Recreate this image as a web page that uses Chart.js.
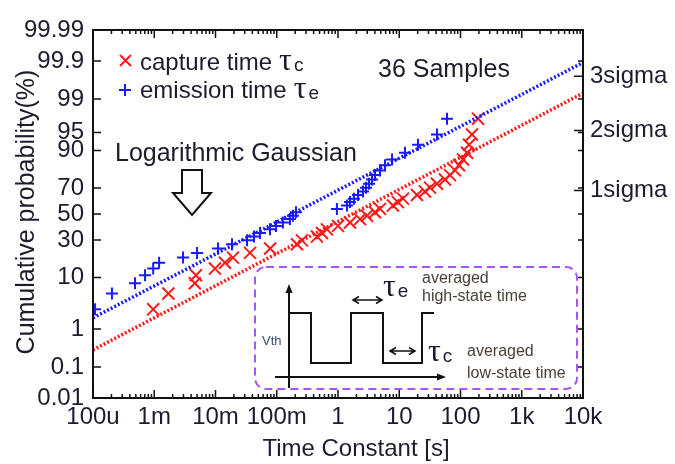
<!DOCTYPE html>
<html>
<head>
<meta charset="utf-8">
<script src="https://cdn.jsdelivr.net/npm/chart.js@4"></script>
<style>
  body { margin: 0; background: #fff; }
  #wrap { width: 675px; height: 464px; }
</style>
</head>
<body>
<div id="wrap"><canvas id="chart"></canvas></div>
<script>
// axis ticks
const xTickValues = [1e-4, 1e-3, 1e-2, 1e-1, 1, 10, 100, 1e3, 1e4]
const xTickLabels = ['100u', '1m', '10m', '100m', '1', '10', '100', '1k', '10k']
const yTickPct = [0.01, 0.1, 1, 10, 30, 50, 70, 90, 95, 99, 99.9, 99.99]
const yTickLabels = ['0.01', '0.1', '1', '10', '30', '50', '70', '90', '95', '99', '99.9', '99.99']
const sigmaPct = [68.27, 95.45, 99.73]
const sigmaLabels = ['1sigma', '2sigma', '3sigma']

// cumulative probability (%) of each ranked sample, 36 samples
const cumulativePct = [2.7, 5.4, 8.1, 10.8, 13.5, 16.2, 18.9, 21.6, 24.3, 27.0, 29.7, 32.4,
  35.1, 37.8, 40.5, 43.2, 45.9, 48.6, 51.4, 54.1, 56.8, 59.5, 62.2, 64.9,
  67.6, 70.3, 73.0, 75.7, 78.4, 81.1, 83.8, 86.5, 89.2, 91.9, 94.6, 97.3]

// capture time tau_c [s], sorted
const captureTimes = [0.00096, 0.0017, 0.0046, 0.0048, 0.0098, 0.0143, 0.0193, 0.0366, 0.078, 0.214,
  0.258, 0.454, 0.548, 0.661, 1.0, 1.57, 2.29, 2.97, 4.02, 4.85,
  7.9, 9.5, 11.5, 19.5, 26.3, 31.8, 41.3, 55.8, 67.4, 81.3,
  94.6, 110, 128, 138, 154, 193]

// emission time tau_e [s], sorted
const emissionTimes = [0.000108, 0.000204, 0.000485, 0.000707, 0.00096, 0.0012, 0.00295, 0.005, 0.011, 0.0186,
  0.0327, 0.0425, 0.0533, 0.0776, 0.0973, 0.126, 0.164, 0.184, 0.206, 0.96,
  1.40, 1.57, 1.82, 2.12, 2.56, 2.87, 3.21, 3.59, 4.02, 4.85,
  5.85, 7.62, 12.4, 20.2, 41.3, 60.2]

// log-normal fit lines (end points)
const fitTimes = [1e-4, 1e4]
const captureFitPct = [0.30, 99.27]
const emissionFitPct = [1.79, 99.89]

const RED = '#ff1a1a'
const BLUE = '#1a1aff'
const INK = '#1c1c2c'
const SANS = '"Liberation Sans", Arial, Helvetica, sans-serif'
const SERIF = '"Liberation Serif", "DejaVu Serif", serif'

// inverse of the standard normal CDF (Acklam)
function probit(p) {
  const a = [-3.969683028665376e+01, 2.209460984245205e+02, -2.759285104469687e+02, 1.383577518672690e+02, -3.066479806614716e+01, 2.506628277459239e+00]
  const b = [-5.447609879822406e+01, 1.615858368580409e+02, -1.556989798598866e+02, 6.680131188771972e+01, -1.328068155328935e+01]
  const c = [-7.784894002430293e-03, -3.223964580411365e-01, -2.400758277161838e+00, -2.549732539343734e+00, 4.374664141464968e+00, 2.938163982698783e+00]
  const d = [7.784695709041462e-03, 3.224671290700398e-01, 2.445134137142996e+00, 3.754408661907416e+00]
  const pl = 0.02425
  let q, r
  if (p < pl) {
    q = Math.sqrt(-2 * Math.log(p))
    return (((((c[0]*q+c[1])*q+c[2])*q+c[3])*q+c[4])*q+c[5]) / ((((d[0]*q+d[1])*q+d[2])*q+d[3])*q+1)
  }
  if (p <= 1 - pl) {
    q = p - 0.5
    r = q * q
    return (((((a[0]*r+a[1])*r+a[2])*r+a[3])*r+a[4])*r+a[5])*q / (((((b[0]*r+b[1])*r+b[2])*r+b[3])*r+b[4])*r+1)
  }
  q = Math.sqrt(-2 * Math.log(1 - p))
  return -(((((c[0]*q+c[1])*q+c[2])*q+c[3])*q+c[4])*q+c[5]) / ((((d[0]*q+d[1])*q+d[2])*q+d[3])*q+1)
}

const z = (pct) => probit(pct / 100)
const toPoints = (xs, pcts) => xs.map((x, i) => ({ x: x, y: z(pcts[i]) }))
const zMin = z(yTickPct[0])
const zMax = z(yTickPct[yTickPct.length - 1])

// text with a big tau and small subscript
function tauText(ctx, x, y, sub) {
  ctx.font = '32px ' + SERIF
  ctx.fillText('\u03c4', x, y)
  const w = ctx.measureText('\u03c4').width
  ctx.font = '19px ' + SANS
  ctx.fillText(sub, x + w + 2, y + 1)
}

// legend line: text, then tau with subscript just after it
function legendText(ctx, text, x, y, sub) {
  ctx.font = '24px ' + SANS
  ctx.fillText(text, x, y)
  tauText(ctx, x + ctx.measureText(text).width + 7, y, sub)
}

function dblArrow(ctx, x1, x2, y) {
  ctx.beginPath()
  ctx.moveTo(x1, y); ctx.lineTo(x2, y)
  ctx.moveTo(x1 + 6, y - 3.5); ctx.lineTo(x1, y); ctx.lineTo(x1 + 6, y + 3.5)
  ctx.moveTo(x2 - 6, y - 3.5); ctx.lineTo(x2, y); ctx.lineTo(x2 - 6, y + 3.5)
  ctx.stroke()
}

const decorations = {
  id: 'decorations',
  afterDraw(chart) {
    const ctx = chart.ctx
    const area = chart.chartArea
    const xs = chart.scales.x
    const ys = chart.scales.y
    ctx.save()

    // frame
    ctx.strokeStyle = '#111'
    ctx.lineWidth = 2
    ctx.strokeRect(area.left, area.top, area.right - area.left, area.bottom - area.top)

    // inward ticks, x (bottom and top)
    ctx.lineWidth = 1.5
    ctx.beginPath()
    for (let e = -4; e <= 4; e++) {
      for (let m = 1; m <= 9; m++) {
        const v = m * Math.pow(10, e)
        if (v > 1e4 * 1.0001) continue
        const px = xs.getPixelForValue(v)
        const len = m === 1 ? 8 : 4
        ctx.moveTo(px, area.bottom); ctx.lineTo(px, area.bottom - len)
        ctx.moveTo(px, area.top); ctx.lineTo(px, area.top + len)
      }
    }
    // inward ticks, y (left and right)
    yTickPct.forEach((p) => {
      const py = ys.getPixelForValue(z(p))
      ctx.moveTo(area.left, py); ctx.lineTo(area.left + 8, py)
      ctx.moveTo(area.right, py); ctx.lineTo(area.right - 5, py)
    })
    sigmaPct.forEach((p) => {
      const py = ys.getPixelForValue(z(p))
      ctx.moveTo(area.right, py); ctx.lineTo(area.right - 9, py)
    })
    ctx.stroke()

    // axis titles
    ctx.fillStyle = INK
    ctx.textAlign = 'center'
    ctx.textBaseline = 'middle'
    ctx.font = '24px ' + SANS
    ctx.fillText('Time Constant [s]', 356, 449)
    ctx.save()
    ctx.translate(27, 212)
    ctx.rotate(-Math.PI / 2)
    ctx.font = '25px ' + SANS
    ctx.fillText('Cumulative probability(%)', 0, 0)
    ctx.restore()

    // legend
    ctx.lineWidth = 2
    ctx.strokeStyle = RED
    ctx.beginPath()
    ctx.moveTo(120, 55); ctx.lineTo(131, 66)
    ctx.moveTo(131, 55); ctx.lineTo(120, 66)
    ctx.stroke()
    ctx.strokeStyle = BLUE
    ctx.beginPath()
    ctx.moveTo(119, 90); ctx.lineTo(131, 90)
    ctx.moveTo(125, 84); ctx.lineTo(125, 96)
    ctx.stroke()
    ctx.textAlign = 'left'
    ctx.textBaseline = 'alphabetic'
    legendText(ctx, 'capture time', 140, 70, 'c')
    legendText(ctx, 'emission time', 140, 98, 'e')

    ctx.font = '25px ' + SANS
    ctx.fillText('36 Samples', 378, 77)
    ctx.fillText('Logarithmic Gaussian', 115, 161)

    // hollow arrow
    ctx.strokeStyle = '#111'
    ctx.lineWidth = 2
    ctx.beginPath()
    ctx.moveTo(182, 170); ctx.lineTo(202, 170); ctx.lineTo(202, 193); ctx.lineTo(211, 193)
    ctx.lineTo(192, 215); ctx.lineTo(173, 193); ctx.lineTo(182, 193); ctx.closePath()
    ctx.stroke()

    // inset
    ctx.strokeStyle = '#a855f7'
    ctx.lineWidth = 2
    ctx.setLineDash([8, 5])
    ctx.beginPath()
    ctx.roundRect(255, 267, 322, 122, 11)
    ctx.stroke()
    ctx.setLineDash([])

    ctx.strokeStyle = '#111'
    ctx.lineWidth = 2
    ctx.beginPath()
    ctx.moveTo(289, 388); ctx.lineTo(289, 290)
    ctx.moveTo(275, 377); ctx.lineTo(441, 377)
    ctx.stroke()
    ctx.fillStyle = '#111'
    ctx.beginPath()
    ctx.moveTo(289, 284); ctx.lineTo(285.5, 293); ctx.lineTo(292.5, 293); ctx.closePath()
    ctx.moveTo(446, 377); ctx.lineTo(437, 373.5); ctx.lineTo(437, 380.5); ctx.closePath()
    ctx.fill()

    ctx.beginPath()
    ctx.moveTo(290, 313); ctx.lineTo(311, 313); ctx.lineTo(311, 363); ctx.lineTo(351, 363)
    ctx.lineTo(351, 313); ctx.lineTo(383, 313); ctx.lineTo(383, 363); ctx.lineTo(422, 363)
    ctx.lineTo(422, 313); ctx.lineTo(434, 313)
    ctx.stroke()
    ctx.lineWidth = 1.5
    dblArrow(ctx, 353, 382, 300)
    dblArrow(ctx, 390, 415, 351)

    ctx.fillStyle = '#3a4a6a'
    ctx.font = '13px ' + SANS
    ctx.fillText('Vth', 262, 345)

    ctx.fillStyle = INK
    tauText(ctx, 383, 296, 'e')
    tauText(ctx, 428, 361, 'c')
    ctx.fillStyle = '#4a4038'
    ctx.font = '16px ' + SANS
    ctx.fillText('averaged', 422, 283)
    ctx.fillText('high-state time', 422, 301)
    ctx.fillText('averaged', 467, 356)
    ctx.fillText('low-state time', 467, 378)

    ctx.restore()
  }
}

const fixedSize = (w, h) => (scale) => {
  if (w !== undefined) scale.width = w
  if (h !== undefined) scale.height = h
}

new Chart(document.getElementById('chart'), {
  type: 'scatter',
  data: {
    datasets: [
      {
        label: 'capture fit',
        data: toPoints(fitTimes, captureFitPct),
        showLine: true,
        borderColor: RED,
        borderWidth: 3.5,
        borderDash: [2, 2],
        pointRadius: 0,
      },
      {
        label: 'emission fit',
        data: toPoints(fitTimes, emissionFitPct),
        showLine: true,
        borderColor: BLUE,
        borderWidth: 3.5,
        borderDash: [2, 2],
        pointRadius: 0,
      },
      {
        label: 'capture time',
        data: toPoints(captureTimes, cumulativePct),
        pointStyle: 'crossRot',
        pointRadius: 8.5,
        borderColor: RED,
        borderWidth: 2,
      },
      {
        label: 'emission time',
        data: toPoints(emissionTimes, cumulativePct),
        pointStyle: 'cross',
        pointRadius: 6,
        borderColor: BLUE,
        borderWidth: 2,
      },
    ],
  },
  options: {
    responsive: true,
    maintainAspectRatio: false,
    animation: false,
    layout: { padding: { top: 30, left: 0, right: 0, bottom: 0 } },
    plugins: {
      legend: { display: false },
      tooltip: { enabled: false },
    },
    scales: {
      x: {
        type: 'logarithmic',
        min: xTickValues[0],
        max: xTickValues[xTickValues.length - 1],
        grid: { display: false, drawTicks: false },
        border: { display: false },
        afterBuildTicks: (scale) => { scale.ticks = xTickValues.map((v) => ({ value: v })) },
        afterFit: fixedSize(undefined, 66),
        ticks: {
          autoSkip: false,
          maxRotation: 0,
          padding: 5,
          color: INK,
          font: { family: SANS, size: 24 },
          callback: (value) => {
            const i = xTickValues.findIndex((v) => Math.abs(v - value) / v < 1e-6)
            return i >= 0 ? xTickLabels[i] : ''
          },
        },
      },
      y: {
        type: 'linear',
        position: 'left',
        min: zMin,
        max: zMax,
        grid: { display: false, drawTicks: false },
        border: { display: false },
        afterBuildTicks: (scale) => { scale.ticks = yTickPct.map((p) => ({ value: z(p) })) },
        afterFit: fixedSize(93),
        ticks: {
          autoSkip: false,
          padding: 9,
          color: INK,
          font: { family: SANS, size: 24 },
          callback: (value, index) => yTickLabels[index],
        },
      },
      y2: {
        type: 'linear',
        position: 'right',
        min: zMin,
        max: zMax,
        grid: { display: false, drawTicks: false },
        border: { display: false },
        afterBuildTicks: (scale) => { scale.ticks = sigmaPct.map((p) => ({ value: z(p) })) },
        afterFit: fixedSize(92),
        ticks: {
          autoSkip: false,
          padding: 7,
          color: INK,
          font: { family: SANS, size: 24 },
          callback: (value, index) => sigmaLabels[index],
        },
      },
    },
  },
  plugins: [decorations],
})
</script>
</body>
</html>
